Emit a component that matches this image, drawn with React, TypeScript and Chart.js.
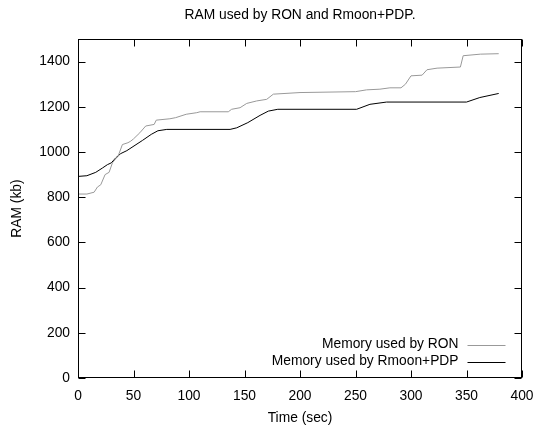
import React, { useEffect, useRef } from "react";
import { Chart, registerables } from "chart.js";

Chart.register(...registerables);

const chartTitle = "RAM used by RON and Rmoon+PDP.";
const xAxisTitle = "Time (sec)";
const yAxisTitle = "RAM (kb)";
const seriesLabels = ["Memory used by RON", "Memory used by Rmoon+PDP"];

const timeRON = [0, 8, 14.5, 17.5, 20.5, 24.4, 28, 31, 34, 36, 40, 45, 47.5, 50, 55.7, 61, 68.6, 70.5, 82.8, 88, 97.5, 107, 110, 135.4, 138.4, 146, 152, 161, 170, 176, 200, 250, 260, 272, 281, 291, 295, 300, 310, 314.4, 323.5, 344.5, 347, 362.5, 379];
const ramRON = [814, 814, 822, 845, 855, 900, 910, 952, 970, 980, 1033, 1041, 1048, 1058, 1085, 1115, 1122, 1141, 1147, 1152, 1167, 1174, 1178, 1178, 1189, 1196, 1215, 1226, 1233, 1256, 1263, 1267, 1275, 1278, 1284, 1284, 1300, 1337, 1340, 1364, 1371, 1376, 1426, 1433, 1435];

const timePDP = [0, 8, 16, 22, 26.5, 30, 34, 38.5, 44, 58, 66, 72, 80, 137, 143, 153, 164, 171.5, 180, 251, 263, 278, 350, 362, 379];
const ramPDP = [892, 895, 910, 929, 944, 952, 974, 993, 1006, 1051, 1078, 1094, 1100, 1100, 1107, 1130, 1162, 1181, 1189, 1189, 1211, 1221, 1221, 1241, 1259];

const xMin = 0;
const xMax = 400;
const xStep = 50;
const yMin = 0;
const yMax = 1500;
const yStep = 200;

const FONT = "'Liberation Sans', Arial, Helvetica, sans-serif";
const FS = 13.8;

const framePlugin = {
  id: "gnuplotFrame",
  afterDatasetsDraw(chart: any) {
    const { ctx, chartArea } = chart;
    const { left, right, top, bottom } = chartArea;
    const L = Math.round(left) + 0.5;
    const R = Math.round(right) - 0.5;
    const T = Math.round(top) + 0.5;
    const B = Math.round(bottom) - 0.5;
    const tl = 7;
    ctx.save();
    ctx.strokeStyle = "#000";
    ctx.lineWidth = 1;
    ctx.beginPath();
    const xs = chart.scales.x;
    const ys = chart.scales.y;
    xs.ticks.forEach((t: any) => {
      const px = Math.round(xs.getPixelForValue(t.value)) + 0.5;
      ctx.moveTo(px, B);
      ctx.lineTo(px, B - tl);
      ctx.moveTo(px, T);
      ctx.lineTo(px, T + tl);
    });
    ys.ticks.forEach((t: any) => {
      const py = Math.round(ys.getPixelForValue(t.value)) + 0.5;
      ctx.moveTo(L, py);
      ctx.lineTo(L + tl, py);
      ctx.moveTo(R, py);
      ctx.lineTo(R - tl, py);
    });
    ctx.stroke();
    ctx.strokeRect(L, T, R - L, B - T);

    // legend inside plot, bottom right
    const rows = chart.data.datasets.length;
    const rowH = 17;
    const textRight = R - 63;
    const lineX0 = R - 54;
    const lineX1 = R - 16;
    const firstY = B - 33;
    ctx.font = `${FS}px ${FONT}`;
    ctx.textAlign = "right";
    ctx.textBaseline = "middle";
    for (let i = 0; i < rows; i++) {
      const ds = chart.data.datasets[i];
      const y = firstY + i * rowH;
      ctx.fillStyle = "#000";
      ctx.fillText(ds.label, textRight, y);
      ctx.strokeStyle = ds.borderColor;
      ctx.lineWidth = ds.borderWidth;
      ctx.beginPath();
      ctx.moveTo(lineX0, Math.round(y) + 0.5);
      ctx.lineTo(lineX1, Math.round(y) + 0.5);
      ctx.stroke();
    }

    // title centred over plot area
    ctx.fillStyle = "#000";
    ctx.textAlign = "center";
    ctx.textBaseline = "middle";
    ctx.font = `${FS}px ${FONT}`;
    ctx.fillText(chartTitle, (left + right) / 2, 15.5);
    ctx.restore();
  },
};

export default function App() {
  const canvasRef = useRef<HTMLCanvasElement | null>(null);

  useEffect(() => {
    if (!canvasRef.current) return;
    const chart = new Chart(canvasRef.current, {
      type: "line",
      data: {
        datasets: [
          {
            label: seriesLabels[0],
            data: timeRON.map((t, i) => ({ x: t, y: ramRON[i] })),
            borderColor: "#999999",
            borderWidth: 1,
            pointRadius: 0,
            tension: 0,
            fill: false,
          },
          {
            label: seriesLabels[1],
            data: timePDP.map((t, i) => ({ x: t, y: ramPDP[i] })),
            borderColor: "#000000",
            borderWidth: 1,
            pointRadius: 0,
            tension: 0,
            fill: false,
          },
        ],
      },
      options: {
        responsive: false,
        animation: false,
        events: [],
        layout: { padding: { left: 0, right: 12, top: 39, bottom: 0 } },
        plugins: {
          legend: { display: false },
          title: { display: false },
          tooltip: { enabled: false },
        },
        scales: {
          x: {
            type: "linear",
            min: xMin,
            max: xMax,
            grid: { display: false, drawTicks: false },
            border: { display: false },
            ticks: {
              stepSize: xStep,
              padding: 10,
              maxRotation: 0,
              color: "#000",
              font: { family: FONT, size: FS },
              callback: (v: any) => String(v),
            },
            title: {
              display: true,
              text: xAxisTitle,
              color: "#000",
              font: { family: FONT, size: FS },
              padding: { top: 0, bottom: 3 },
            },
            afterFit: (scale: any) => {
              scale.height = 51;
              scale.paddingLeft = 0;
              scale.paddingRight = 0;
            },
          },
          y: {
            type: "linear",
            min: yMin,
            max: yMax,
            grid: { display: false, drawTicks: false },
            border: { display: false },
            ticks: {
              stepSize: yStep,
              padding: 8,
              color: "#000",
              font: { family: FONT, size: FS },
              callback: (v: any) => String(v),
            },
            afterBuildTicks: (scale: any) => {
              scale.ticks = scale.ticks.filter((t: any) => t.value % yStep === 0);
            },
            title: {
              display: true,
              text: yAxisTitle,
              color: "#000",
              font: { family: FONT, size: FS },
              padding: { top: 9, bottom: 0 },
            },
            afterFit: (scale: any) => {
              scale.width = 78;
              scale.paddingTop = 0;
              scale.paddingBottom = 0;
            },
          },
        },
      },
      plugins: [framePlugin],
    } as any);
    return () => chart.destroy();
  }, []);

  return (
    <div style={{ position: "absolute", left: 0, top: 0, width: 534, height: 429, background: "#fff" }}>
      <canvas ref={canvasRef} width={534} height={429} />
    </div>
  );
}
